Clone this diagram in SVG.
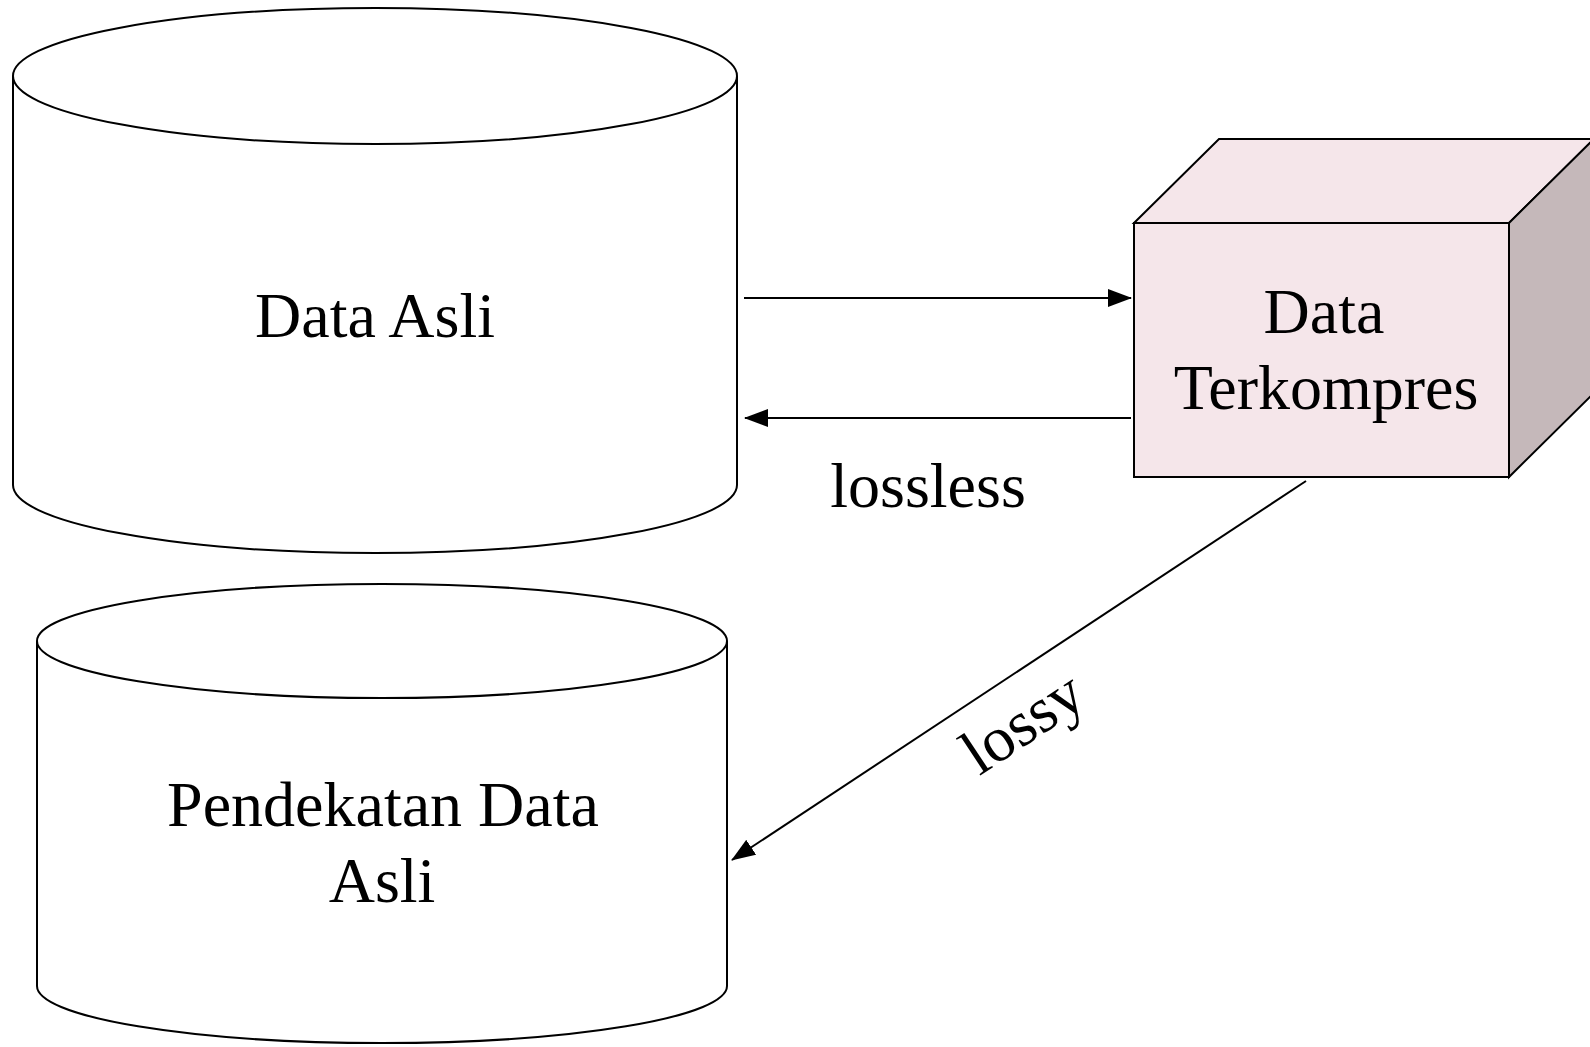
<svg xmlns="http://www.w3.org/2000/svg" width="1590" height="1047" viewBox="0 0 1590 1047">
  <style>
    .outline { stroke: #000; stroke-width: 2; }
    .label { font-family: "Liberation Serif", "Times New Roman", serif; font-size: 64px; fill: #000; text-anchor: middle; }
    .link { stroke: #000; stroke-width: 2; fill: none; }
  </style>
  <defs>
    <marker id="arrow" viewBox="0 0 24 18" refX="23" refY="9" markerWidth="24" markerHeight="18" markerUnits="userSpaceOnUse" orient="auto">
      <path d="M0,0 L24,9 L0,18 Z" fill="#000"/>
    </marker>
  </defs>
  <rect width="1590" height="1047" fill="#fff"/>

  <!-- Original data store -->
  <g id="data-asli">
    <path class="outline" fill="#fff" d="M13,76 L13,485 A362,68 0 0 0 737,485 L737,76"/>
    <ellipse class="outline" fill="#fff" cx="375" cy="76" rx="362" ry="68"/>
    <text class="label" x="375" y="337">Data Asli</text>
  </g>

  <!-- Approximated data store -->
  <g id="pendekatan-data-asli">
    <path class="outline" fill="#fff" d="M37,641 L37,986 A345,57 0 0 0 727,986 L727,641"/>
    <ellipse class="outline" fill="#fff" cx="382" cy="641" rx="345" ry="57"/>
    <text class="label" x="383" y="826">Pendekatan Data</text>
    <text class="label" x="382" y="902">Asli</text>
  </g>

  <!-- Compressed data block -->
  <g id="data-terkompres">
    <polygon class="outline" fill="#f5e6ea" points="1134,223 1219,139 1594,139 1509,223"/>
    <polygon class="outline" fill="#c5b8ba" points="1509,223 1594,139 1594,393 1509,477"/>
    <rect class="outline" fill="#f5e6ea" x="1134" y="223" width="375" height="254"/>
    <text class="label" x="1324" y="333">Data</text>
    <text class="label" x="1326" y="409">Terkompres</text>
  </g>

  <g id="connectors">
    <line class="link" x1="744" y1="298" x2="1131" y2="298" marker-end="url(#arrow)"/>
    <line class="link" x1="1131" y1="418" x2="745" y2="418" marker-end="url(#arrow)"/>
    <line class="link" x1="1306" y1="481" x2="732" y2="860" marker-end="url(#arrow)"/>
    <text class="label" x="928" y="507">lossless</text>
    <text class="label" transform="translate(1034,740) rotate(-33.5)" x="0" y="0">lossy</text>
  </g>
</svg>
